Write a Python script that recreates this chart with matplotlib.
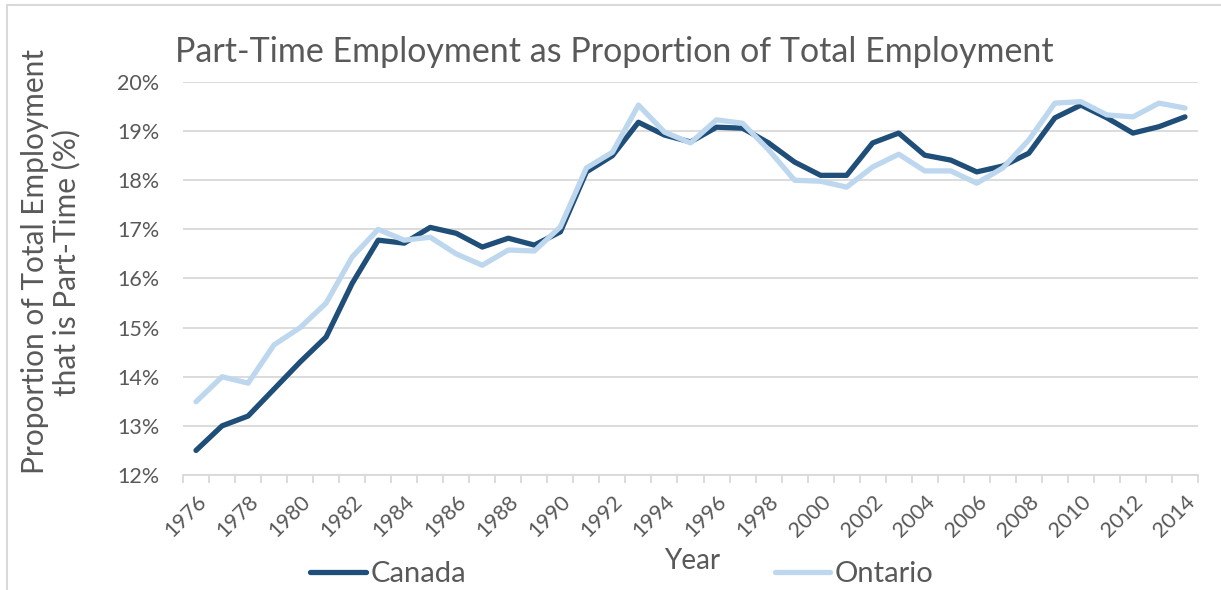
import matplotlib
matplotlib.use("Agg")
import matplotlib.pyplot as plt
from matplotlib.patches import Rectangle
from matplotlib.ticker import FixedLocator, PercentFormatter

# Data
years = list(range(1976, 2015))
canada = [12.50, 13.00, 13.20, 13.75, 14.30, 14.81, 15.90, 16.78, 16.72, 17.04,
          16.92, 16.64, 16.82, 16.68, 16.95, 18.17, 18.50, 19.18, 18.92, 18.78,
          19.08, 19.06, 18.76, 18.37, 18.10, 18.10, 18.76, 18.96, 18.51, 18.41,
          18.17, 18.29, 18.55, 19.27, 19.53, 19.27, 18.96, 19.09, 19.29]
ontario = [13.49, 14.00, 13.87, 14.65, 15.00, 15.50, 16.44, 17.00, 16.78, 16.84,
           16.50, 16.27, 16.58, 16.56, 17.05, 18.25, 18.57, 19.53, 18.98, 18.76,
           19.23, 19.16, 18.62, 18.00, 17.98, 17.86, 18.27, 18.53, 18.19, 18.19,
           17.94, 18.25, 18.82, 19.57, 19.60, 19.33, 19.29, 19.57, 19.47]

text_color = '#595959'
grid_color = '#D9D9D9'
plt.rcParams['font.family'] = ['Lato', 'DejaVu Sans']

fig = plt.figure(figsize=(12.21, 5.90), dpi=100)
ax = fig.add_axes([183 / 1221, 1 - 475 / 590, (1198 - 183) / 1221, (475 - 82) / 590])

ax.plot(years, canada, color='#1F4E79', linewidth=3.8, label='Canada',
        solid_capstyle='round', solid_joinstyle='round', zorder=3)
ax.plot(years, ontario, color='#BDD7EE', linewidth=3.8, label='Ontario',
        solid_capstyle='round', solid_joinstyle='round', zorder=3)

ax.set_xlim(1975.5, 2014.5)
ax.set_ylim(12, 20)
ax.set_yticks(range(12, 21))
ax.yaxis.set_major_formatter(PercentFormatter(decimals=0))
ax.grid(axis='y', color=grid_color, linewidth=1.3)
ax.set_axisbelow(True)

ax.set_xticks(years[::2])
ax.set_xticklabels([str(y) for y in years[::2]], rotation=45, ha='right',
                   rotation_mode='anchor')
ax.xaxis.set_minor_locator(FixedLocator([y - 0.5 for y in years] + [2014.5]))
ax.tick_params(axis='x', which='major', length=0, pad=12, labelsize=15.5,
               labelcolor=text_color)
ax.tick_params(axis='x', which='minor', length=6, width=1.3, color=grid_color)
ax.tick_params(axis='y', length=0, pad=17, labelsize=15.5, labelcolor=text_color)

for side in ['top', 'right', 'left']:
    ax.spines[side].set_visible(False)
ax.spines['bottom'].set_color(grid_color)
ax.spines['bottom'].set_linewidth(1.3)

fig.text(175 / 1221, 1 - 52 / 590, 'Part-Time Employment as Proportion of Total Employment',
         fontsize=24.5, color=text_color, va='center', ha='left')
fig.text(51 / 1221, 1 - 262 / 590, 'Proportion of Total Employment\nthat is Part-Time (%)',
         fontsize=21.5, color=text_color, rotation=90, va='center', ha='center',
         multialignment='center', linespacing=1.1)
fig.text(692 / 1221, 1 - 561 / 590, 'Year', fontsize=20, color=text_color,
         va='center', ha='center')

fig.legend(loc='center', bbox_to_anchor=(622 / 1221, 1 - 574 / 590), ncol=2,
           frameon=False, fontsize=21, labelcolor=text_color, handlelength=1.9,
           handletextpad=0.15, columnspacing=10.6, borderpad=0.1)

# chart area border (left and top edges visible)
fig.patches.append(Rectangle((7 / 1221, -0.1), 1.2, 1 - 5 / 590 + 0.1,
                             transform=fig.transFigure, fill=False,
                             edgecolor=grid_color, linewidth=1.5))

fig.savefig('out.png', dpi=100, facecolor='white')
